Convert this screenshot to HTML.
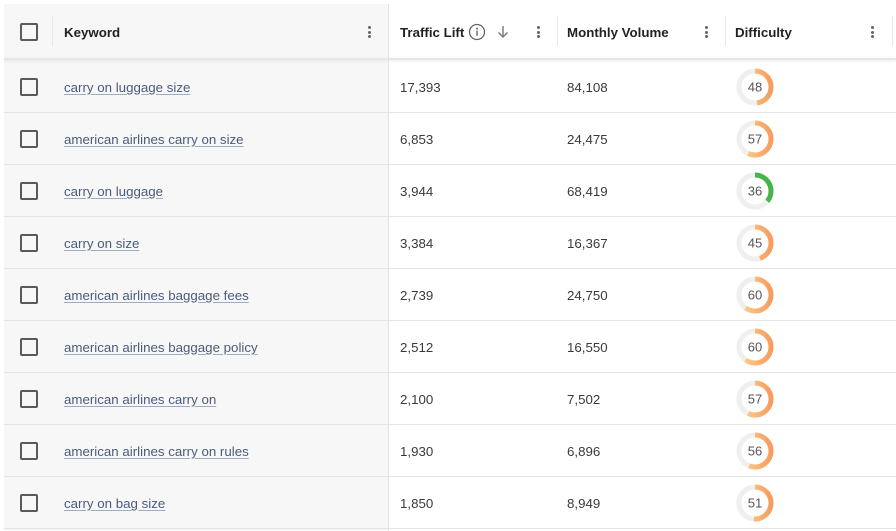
<!DOCTYPE html>
<html>
<head>
<meta charset="utf-8">
<style>
  html,body{margin:0;padding:0;background:#fff;}
  body{width:896px;height:531px;position:relative;overflow:hidden;font-family:"Liberation Sans",Arial,sans-serif;font-size:13.3px;color:#333;}
  .abs{position:absolute;}
  .leftbg{left:4px;top:4px;width:384px;height:527px;background:#f7f7f7;}
  .hdrright{left:389px;top:4px;width:507px;height:55px;background:#fff;}
  .hdrshadow{left:4px;top:58px;width:892px;height:2px;background:#e6e6e6;box-shadow:0 1px 3px rgba(0,0,0,0.10);}
  .vdiv{left:388px;top:4px;width:1px;height:527px;background:#e2e2e2;}
  .hline{left:4px;width:892px;height:1px;background:#e3e3e3;}
  .cb{width:14px;height:14px;border:2px solid #5a5a5a;border-radius:2px;left:20px;}
  .hsep{width:1px;height:30px;top:16px;background:#e8e8e8;}
  .hdr{font-weight:bold;color:#222;top:25px;line-height:16px;white-space:nowrap;}
  .kebab{width:3px;top:26px;}
  .kebab i{display:block;width:3px;height:3px;background:#666;border-radius:50%;margin-bottom:1.5px;}
  .kw{left:64px;color:#4a5b7c;text-decoration:underline;text-decoration-color:#a0abc0;text-underline-offset:2px;white-space:nowrap;line-height:16px;margin-top:1px;}
  .num{line-height:16px;white-space:nowrap;color:#3a3a3a;margin-top:1px;}
  .donut{left:736px;width:38px;height:38px;}
</style>
</head>
<body>
<div class="abs leftbg"></div>
<div class="abs hdrright"></div>
<div class="abs hdrshadow"></div>
<div class="abs vdiv"></div>

<!-- header -->
<div class="abs cb" style="top:23px;"></div>
<div class="abs hsep" style="left:52px;"></div>
<div class="abs hdr" style="left:64px;">Keyword</div>
<div class="abs kebab" style="left:368px;"><i></i><i></i><i></i></div>

<div class="abs hdr" style="left:400px;">Traffic Lift</div>
<svg class="abs" style="left:468px;top:23px;" width="18" height="18" viewBox="0 0 18 18"><circle cx="9" cy="9" r="7.5" fill="none" stroke="#666" stroke-width="1.3"/><circle cx="9" cy="5.6" r="1" fill="#666"/><rect x="8.3" y="7.6" width="1.4" height="5.2" fill="#666"/></svg>
<svg class="abs" style="left:496px;top:24px;" width="14" height="16" viewBox="0 0 14 16"><path d="M7 2 V13 M2.5 8.5 L7 13 L11.5 8.5" fill="none" stroke="#777" stroke-width="1.4"/></svg>
<div class="abs kebab" style="left:537px;"><i></i><i></i><i></i></div>
<div class="abs hsep" style="left:557px;"></div>

<div class="abs hdr" style="left:567px;">Monthly Volume</div>
<div class="abs kebab" style="left:705px;"><i></i><i></i><i></i></div>
<div class="abs hsep" style="left:725px;"></div>

<div class="abs hdr" style="left:735px;">Difficulty</div>
<div class="abs kebab" style="left:871px;"><i></i><i></i><i></i></div>
<div class="abs hsep" style="left:892px;"></div>

<svg width="0" height="0" style="position:absolute">
  <defs>
    <linearGradient id="og" x1="0" y1="0" x2="0" y2="1">
      <stop offset="0" stop-color="#fdd692"/>
      <stop offset="1" stop-color="#f79c5e"/>
    </linearGradient>
  </defs>
</svg>

<!-- rows -->
<div class="abs hline" style="top:112px;"></div>
<div class="abs hline" style="top:164px;"></div>
<div class="abs hline" style="top:216px;"></div>
<div class="abs hline" style="top:268px;"></div>
<div class="abs hline" style="top:320px;"></div>
<div class="abs hline" style="top:372px;"></div>
<div class="abs hline" style="top:424px;"></div>
<div class="abs hline" style="top:476px;"></div>
<div class="abs hline" style="top:528px;"></div>

<!-- row 1 -->
<div class="abs cb" style="top:78px;"></div>
<div class="abs kw" style="top:79px;">carry on luggage size</div>
<div class="abs num" style="left:400px;top:79px;">17,393</div>
<div class="abs num" style="left:567px;top:79px;">84,108</div>
<svg class="abs donut" style="top:68px;" viewBox="0 0 38 38"><circle cx="19" cy="19" r="16" fill="none" stroke="#efefef" stroke-width="5"/><circle cx="19" cy="19" r="16" fill="none" stroke="url(#og)" stroke-width="5" stroke-dasharray="48.2 200" transform="rotate(-90 19 19)"/><text x="19" y="23.5" text-anchor="middle" font-family="Liberation Sans,Arial,sans-serif" font-size="13" fill="#555">48</text></svg>

<!-- row 2 -->
<div class="abs cb" style="top:130px;"></div>
<div class="abs kw" style="top:131px;">american airlines carry on size</div>
<div class="abs num" style="left:400px;top:131px;">6,853</div>
<div class="abs num" style="left:567px;top:131px;">24,475</div>
<svg class="abs donut" style="top:120px;" viewBox="0 0 38 38"><circle cx="19" cy="19" r="16" fill="none" stroke="#efefef" stroke-width="5"/><circle cx="19" cy="19" r="16" fill="none" stroke="url(#og)" stroke-width="5" stroke-dasharray="57.3 200" transform="rotate(-90 19 19)"/><text x="19" y="23.5" text-anchor="middle" font-family="Liberation Sans,Arial,sans-serif" font-size="13" fill="#555">57</text></svg>

<!-- row 3 -->
<div class="abs cb" style="top:182px;"></div>
<div class="abs kw" style="top:183px;">carry on luggage</div>
<div class="abs num" style="left:400px;top:183px;">3,944</div>
<div class="abs num" style="left:567px;top:183px;">68,419</div>
<svg class="abs donut" style="top:172px;" viewBox="0 0 38 38"><circle cx="19" cy="19" r="16" fill="none" stroke="#efefef" stroke-width="5"/><circle cx="19" cy="19" r="16" fill="none" stroke="#45b549" stroke-width="5" stroke-dasharray="36.2 200" transform="rotate(-90 19 19)"/><text x="19" y="23.5" text-anchor="middle" font-family="Liberation Sans,Arial,sans-serif" font-size="13" fill="#555">36</text></svg>

<!-- row 4 -->
<div class="abs cb" style="top:234px;"></div>
<div class="abs kw" style="top:235px;">carry on size</div>
<div class="abs num" style="left:400px;top:235px;">3,384</div>
<div class="abs num" style="left:567px;top:235px;">16,367</div>
<svg class="abs donut" style="top:224px;" viewBox="0 0 38 38"><circle cx="19" cy="19" r="16" fill="none" stroke="#efefef" stroke-width="5"/><circle cx="19" cy="19" r="16" fill="none" stroke="url(#og)" stroke-width="5" stroke-dasharray="45.2 200" transform="rotate(-90 19 19)"/><text x="19" y="23.5" text-anchor="middle" font-family="Liberation Sans,Arial,sans-serif" font-size="13" fill="#555">45</text></svg>

<!-- row 5 -->
<div class="abs cb" style="top:286px;"></div>
<div class="abs kw" style="top:287px;">american airlines baggage fees</div>
<div class="abs num" style="left:400px;top:287px;">2,739</div>
<div class="abs num" style="left:567px;top:287px;">24,750</div>
<svg class="abs donut" style="top:276px;" viewBox="0 0 38 38"><circle cx="19" cy="19" r="16" fill="none" stroke="#efefef" stroke-width="5"/><circle cx="19" cy="19" r="16" fill="none" stroke="url(#og)" stroke-width="5" stroke-dasharray="60.3 200" transform="rotate(-90 19 19)"/><text x="19" y="23.5" text-anchor="middle" font-family="Liberation Sans,Arial,sans-serif" font-size="13" fill="#555">60</text></svg>

<!-- row 6 -->
<div class="abs cb" style="top:338px;"></div>
<div class="abs kw" style="top:339px;">american airlines baggage policy</div>
<div class="abs num" style="left:400px;top:339px;">2,512</div>
<div class="abs num" style="left:567px;top:339px;">16,550</div>
<svg class="abs donut" style="top:328px;" viewBox="0 0 38 38"><circle cx="19" cy="19" r="16" fill="none" stroke="#efefef" stroke-width="5"/><circle cx="19" cy="19" r="16" fill="none" stroke="url(#og)" stroke-width="5" stroke-dasharray="60.3 200" transform="rotate(-90 19 19)"/><text x="19" y="23.5" text-anchor="middle" font-family="Liberation Sans,Arial,sans-serif" font-size="13" fill="#555">60</text></svg>

<!-- row 7 -->
<div class="abs cb" style="top:390px;"></div>
<div class="abs kw" style="top:391px;">american airlines carry on</div>
<div class="abs num" style="left:400px;top:391px;">2,100</div>
<div class="abs num" style="left:567px;top:391px;">7,502</div>
<svg class="abs donut" style="top:380px;" viewBox="0 0 38 38"><circle cx="19" cy="19" r="16" fill="none" stroke="#efefef" stroke-width="5"/><circle cx="19" cy="19" r="16" fill="none" stroke="url(#og)" stroke-width="5" stroke-dasharray="57.3 200" transform="rotate(-90 19 19)"/><text x="19" y="23.5" text-anchor="middle" font-family="Liberation Sans,Arial,sans-serif" font-size="13" fill="#555">57</text></svg>

<!-- row 8 -->
<div class="abs cb" style="top:442px;"></div>
<div class="abs kw" style="top:443px;">american airlines carry on rules</div>
<div class="abs num" style="left:400px;top:443px;">1,930</div>
<div class="abs num" style="left:567px;top:443px;">6,896</div>
<svg class="abs donut" style="top:432px;" viewBox="0 0 38 38"><circle cx="19" cy="19" r="16" fill="none" stroke="#efefef" stroke-width="5"/><circle cx="19" cy="19" r="16" fill="none" stroke="url(#og)" stroke-width="5" stroke-dasharray="56.3 200" transform="rotate(-90 19 19)"/><text x="19" y="23.5" text-anchor="middle" font-family="Liberation Sans,Arial,sans-serif" font-size="13" fill="#555">56</text></svg>

<!-- row 9 -->
<div class="abs cb" style="top:494px;"></div>
<div class="abs kw" style="top:495px;">carry on bag size</div>
<div class="abs num" style="left:400px;top:495px;">1,850</div>
<div class="abs num" style="left:567px;top:495px;">8,949</div>
<svg class="abs donut" style="top:484px;" viewBox="0 0 38 38"><circle cx="19" cy="19" r="16" fill="none" stroke="#efefef" stroke-width="5"/><circle cx="19" cy="19" r="16" fill="none" stroke="url(#og)" stroke-width="5" stroke-dasharray="51.3 200" transform="rotate(-90 19 19)"/><text x="19" y="23.5" text-anchor="middle" font-family="Liberation Sans,Arial,sans-serif" font-size="13" fill="#555">51</text></svg>

</body>
</html>
